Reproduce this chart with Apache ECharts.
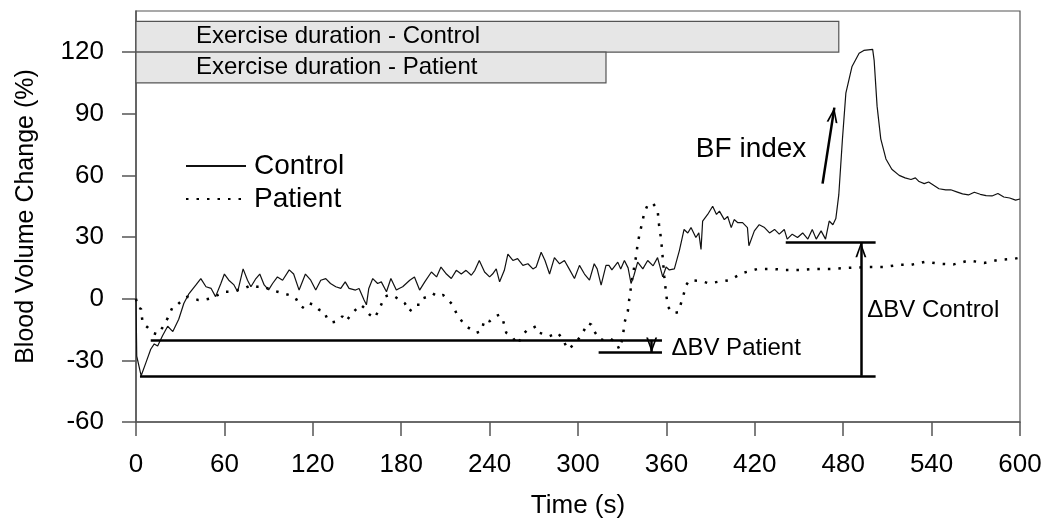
<!DOCTYPE html>
<html><head><meta charset="utf-8">
<script src="https://cdn.jsdelivr.net/npm/echarts@6/dist/echarts.min.js"></script>
<style>html,body{margin:0;padding:0;background:#fff}#c{width:1045px;height:524px}</style>
</head><body><div id="c"></div>
<script>
const xTicks = [0, 60, 120, 180, 240, 300, 360, 420, 480, 540, 600];
const yTicks = [-60, -30, 0, 30, 60, 90, 120];

const control = [
[0,0],[0.5,-28],[3.5,-37.5],[6.8,-31],[10,-24.6],[12.4,-22],[14.7,-23],[18,-18],[21.5,-13.4],[25,-16],
[29,-10],[32.5,-2.2],[36,2.5],[40.7,6.7],[44,9.8],[47.5,5.8],[51,5],[54,1],[57.6,7.4],[60,12],
[63,9],[66.5,6.7],[69,3.4],[72.7,14.5],[75.7,9],[78,5.8],[81.4,9.8],[84,12],[87,6.7],[90,4.3],
[92.7,7.4],[96,10.6],[99.5,9],[104,14],[107,12],[110.7,4.2],[115,12],[118.6,9],[122,4.2],[125.4,9],
[128.8,9.8],[132,7.4],[135.6,5.8],[139,5],[142,8.2],[144.6,5],[149,4.2],[151.4,5],[154.8,-0.6],[156.4,-3],
[158,5],[160.7,9.8],[164,7.4],[166.5,8.2],[170,3.4],[173,9.8],[176.7,4.2],[178.6,5],[181,5.8],[185.8,9],
[189,10.6],[192.5,4.2],[196,8.2],[200.5,13],[204,10.6],[207,15.4],[210.7,12],[214,9.8],[217.4,13.8],[220.8,12],
[224,13.8],[227.6,11.4],[230,13.8],[233,18.6],[236.6,13],[240,10.6],[242,12],[244.5,14.5],[246.8,8.2],[250,13.8],
[252.4,21.7],[255.8,18.6],[259,19.5],[262.6,16.2],[266,17],[269.4,14.5],[271.6,15.4],[275,22.6],[277.6,18.6],[280.7,12],
[284,20],[287.5,17],[290.8,18.6],[294,14.5],[297.6,9.8],[301,16.2],[304.4,12],[307.8,9],[311,17],[313,14.5],
[315.7,6.6],[319,16.2],[321,16.2],[323,14],[327,17.8],[329,14.5],[331.5,18.6],[334,15],[336,7.4],[338,11.4],
[340.5,17.8],[344,14.5],[347.3,18.6],[351,16],[354,20],[357.5,10.6],[359.8,15.4],[362,14],[365.4,14.5],[368.8,23.4],
[372,33.7],[374.5,32],[376.7,34.6],[380,29.8],[382,32],[383.5,24],[384.6,37.8],[388,41],[391.4,45],[394,41],
[396,42.6],[399.3,38.5],[401.6,40],[404,34.6],[406,38.5],[408.5,37],[411.7,37],[415,34.6],[416,25.8],[419.7,33],
[423,36],[426.6,34.6],[430,32],[433.4,33.7],[436.6,31.4],[440,33.7],[442,29],[445.4,31.4],[449,29.8],[452.5,32],
[456,29],[459,33.7],[461.7,29],[465,33],[468,29],[470.5,37.8],[473,36],[475,39],[477,50.5],[479.5,77.8],
[481.8,100],[486,113],[490.8,119.4],[494,120.8],[500,121.3],[501,116],[503,93.7],[505.5,77.8],[509,68],[513,63],
[518,60],[522,58.8],[526,58],[529,58.8],[531.5,57],[535,56],[538,56.8],[545,53.5],[549.6,53],[553,53],
[557,52],[561,51],[565,50.5],[569,51.8],[573,50.8],[577,50.2],[581,50],[585,51.2],[589,49.5],[593,49],
[597,48],[600,48.5]
];

const patient = [
[0,0],[1,-4],[3.4,-5],[4.5,-12],[8,-14],[11.3,-16.6],[14.7,-17.4],[18,-14],[21.5,-9.5],[25,-3.8],
[28,-3],[31.6,-0.6],[35,1],[38.5,0.2],[42,-0.6],[46,-0.6],[51,0.2],[55.4,1.8],[60,3.4],[64.5,3.4],
[69,4.2],[73.5,5],[78,6.6],[82.5,5.8],[87,5.8],[91.5,4.2],[96,3.4],[100.5,2.5],[104,1.8],[108.5,0.2],
[110.7,-3],[114,-4.6],[117.5,-2.2],[121,-3],[124.3,-5.4],[127.7,-6.2],[130,-10.2],[133.3,-11.5],[136.7,-11],[140,-8.6],
[142.6,-11],[145.8,-7.8],[149,-5.4],[152.5,-3],[155,-4.5],[158.6,-7.8],[162,-9.4],[165.4,-4.6],[168.8,1],[172,1.8],
[175.6,1],[179,-0.6],[182.4,-2.2],[185.8,-6.2],[189,-3],[192.5,-3],[194.8,0.2],[198,1],[201.5,2.5],[205,1],
[208.4,1.8],[211.7,-0.6],[215,-3],[217.4,-7],[219.7,-9.4],[222,-11.8],[224,-13.4],[227.6,-15],[231,-16.6],[234.4,-15.8],
[236.6,-10.2],[240,-11],[243.4,-8.6],[246.8,-7.8],[249,-10.2],[251.3,-16.6],[255.8,-19],[259,-22.2],[262.6,-17.4],[266,-15],
[269.4,-14.2],[271.6,-13.4],[274,-16.6],[277.6,-17.4],[280.7,-18.2],[282,-19],[286.3,-16.6],[289.7,-19.8],[293,-24.6],[297.6,-22.2],
[301,-19],[304.4,-15],[306.7,-11.8],[309,-12.6],[311,-15.8],[314.6,-19.8],[317,-20],[321,-19],[326,-21.4],[328,-24.6],
[330.4,-19],[331.5,-11.8],[333.8,-6.2],[335,1],[337,10.6],[339.5,21],[340.6,27.4],[342.8,34.6],[345,41.8],[347.3,45.7],
[350.7,46.6],[354,43.3],[355,36],[356.4,29],[357.5,20],[358.6,10.6],[359.8,2.5],[361,-3.8],[364.3,-7],[368,-6.6],
[371,0.2],[373.4,6.6],[375.6,9],[383.5,8.6],[389,7.4],[394.8,8.2],[402.7,9],[411.7,12.5],[422,14.5],[432,14.5],
[441,14],[452,14],[461,14.5],[472.5,14.5],[483,15],[497.6,15.4],[507.8,15.4],[518,16.5],[526,16.5],[536,18],
[545,17],[555,16.7],[565.4,18.6],[575.6,17.4],[585.8,18.9],[596,19.4],[600,20]
];

const exerciseLabels = ['Exercise duration - Control', 'Exercise duration - Patient'];
const exerciseEnd = [477, 319];
const exerciseBands = [[120, 135], [105, 120]];
const exerciseLabelAt = [[40.7, 127.5], [40.7, 112.5]];

const refLines = [
  [[2.7, -37.5], [502, -37.5]],
  [[441, 27.5], [502, 27.5]],
  [[10, -20], [357, -20]],
  [[314, -26.2], [357, -26.2]]
];
const arrows = [
  [[492, -37.5], [492, 27.5]],
  [[350, -20], [350, -26.2]],
  [[466, 56], [474, 93]]
];
const notes = [
  { text: 'BF index', at: [380, 72.5], size: 28 },
  { text: '\u0394BV Control', at: [496.3, -5.8], size: 24 },
  { text: '\u0394BV Patient', at: [363.4, -24], size: 24 }
];

const FONT = '"Liberation Sans", Arial, sans-serif';
const chevron = 'path://M0,0L7,16L4.6,16L0,4.5L-4.6,16L-7,16Z';

const markLineData = [];
refLines.forEach(s => markLineData.push([
  { coord: s[0], symbol: 'none' },
  { coord: s[1], symbol: 'none' }
]));
arrows.forEach(s => markLineData.push([
  { coord: s[0], symbol: 'none' },
  { coord: s[1], symbol: chevron, symbolSize: [11, 15], symbolOffset: [0, '50%'] }
]));

const markAreaData = exerciseEnd.map((e, i) => [
  { coord: [0, exerciseBands[i][0]] },
  { coord: [e, exerciseBands[i][1]] }
]);

const labelBase = { show: true, position: 'right', distance: 0, color: '#000', opacity: 1, textBorderWidth: 0, fontFamily: FONT };
const textData = exerciseLabels.map((t, i) => ({
  name: t, value: exerciseLabelAt[i], label: Object.assign({}, labelBase, { fontSize: 24 })
})).concat(notes.map(n => ({ name: n.text, value: n.at, label: Object.assign({}, labelBase, { fontSize: n.size }) })));

const hiddenSymbol = { color: 'rgba(0,0,0,0)', borderColor: 'rgba(0,0,0,0)', borderWidth: 0, opacity: 0 };

const chart = echarts.init(document.getElementById('c'), null, { renderer: 'canvas' });
chart.setOption({
  animation: false,
  backgroundColor: '#fff',
  grid: { left: 136, right: 25, top: 11, bottom: 97, show: true, borderColor: '#555', borderWidth: 1.2 },
  legend: {
    data: [
      { name: 'Control', itemStyle: hiddenSymbol },
      { name: 'Patient', itemStyle: hiddenSymbol }
    ],
    orient: 'vertical',
    left: 180, top: 147,
    itemWidth: 60, itemHeight: 10, itemGap: 5,
    textStyle: { fontFamily: FONT, fontSize: 28, color: '#000', padding: [0, 0, 0, 3] },
    selectedMode: false
  },
  xAxis: {
    type: 'value', min: 0, max: 600,
    name: 'Time (s)', nameLocation: 'middle', nameGap: 71,
    nameTextStyle: { fontFamily: FONT, fontSize: 26, color: '#000' },
    axisLine: { show: true, onZero: false, lineStyle: { color: '#555', width: 1.5 } },
    axisTick: { show: true, inside: false, length: 14, customValues: xTicks, lineStyle: { color: '#555', width: 1.5 } },
    axisLabel: { customValues: xTicks, margin: 30, fontFamily: FONT, fontSize: 26, color: '#000' },
    splitLine: { show: false }
  },
  yAxis: {
    type: 'value', min: -60, max: 140,
    name: 'Blood Volume Change (%)', nameLocation: 'middle', nameGap: 97, nameRotate: 90,
    nameTextStyle: { fontFamily: FONT, fontSize: 25, color: '#000' },
    axisLine: { show: true, onZero: false, lineStyle: { color: '#555', width: 1.5 } },
    axisTick: { show: true, inside: false, length: 14, customValues: yTicks, lineStyle: { color: '#555', width: 1.5 } },
    axisLabel: { customValues: yTicks, margin: 32, fontFamily: FONT, fontSize: 26, color: '#000' },
    splitLine: { show: false }
  },
  series: [
    {
      name: 'Patient', type: 'line', data: patient, showSymbol: false, symbol: 'none',
      lineStyle: { color: '#000', width: 2.5, type: [2.5, 8] },
      itemStyle: { color: '#000' }, silent: true, z: 3
    },
    {
      name: 'Control', type: 'line', data: control, showSymbol: false, symbol: 'none',
      lineStyle: { color: '#111', width: 1.2 },
      itemStyle: { color: '#111' }, silent: true, z: 4,
      markArea: {
        silent: true,
        itemStyle: { color: '#e6e6e6', borderColor: '#555', borderWidth: 1.2 },
        label: { show: false },
        data: markAreaData
      },
      markLine: {
        silent: true, animation: false,
        lineStyle: { color: '#000', width: 2.5, type: 'solid' },
        label: { show: false },
        emphasis: { disabled: true },
        data: markLineData
      }
    },
    {
      name: 'notes', type: 'scatter', data: textData, symbolSize: 0, silent: true, z: 6,
      itemStyle: { color: '#000', opacity: 1 },
      label: Object.assign({}, labelBase, { formatter: p => p.name })
    }
  ]
});
</script>
</body></html>
